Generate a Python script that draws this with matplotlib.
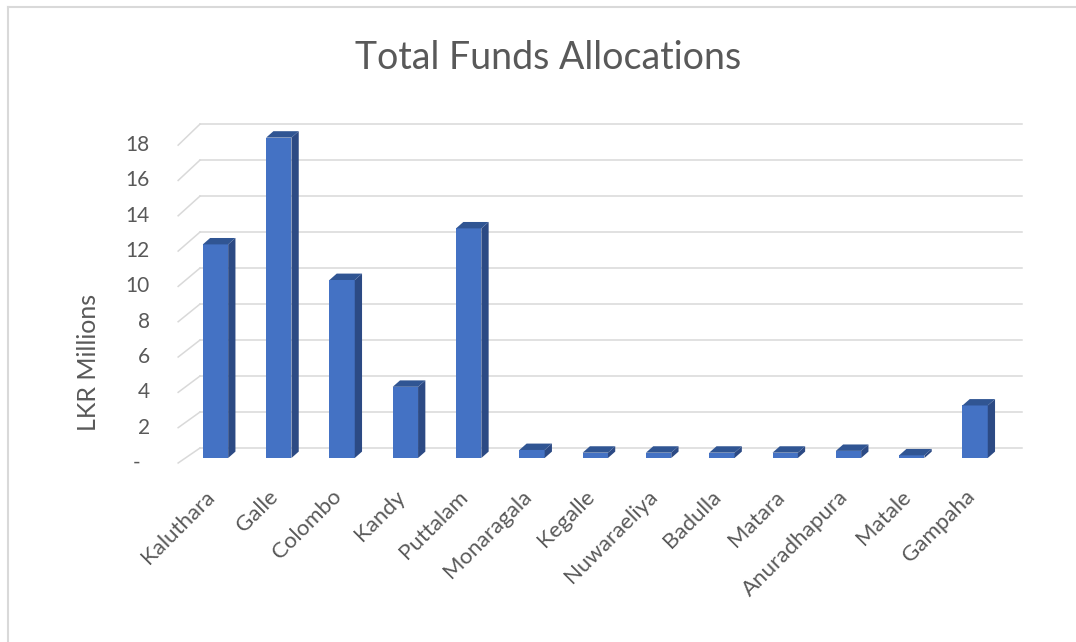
import matplotlib.pyplot as plt
from matplotlib.patches import Polygon
import numpy as np

plt.rcParams['font.family'] = ['Lato', 'DejaVu Sans']

districts = ['Kaluthara', 'Galle', 'Colombo', 'Kandy', 'Puttalam', 'Monaragala',
             'Kegalle', 'Nuwaraeliya', 'Badulla', 'Matara', 'Anuradhapura',
             'Matale', 'Gampaha']
funds = [12.0, 18.0, 10.0, 4.0, 12.9, 0.45, 0.3, 0.3, 0.3, 0.3, 0.4, 0.15, 2.95]
yticks = [0, 2, 4, 6, 8, 10, 12, 14, 16, 18]
ytick_labels = ['-', '2', '4', '6', '8', '10', '12', '14', '16', '18']

front_col = '#4472C4'
side_col = '#2C4A84'
top_col = '#305593'
grid_col = '#D9D9D9'
text_col = '#595959'

W, H = 1076, 642
fig = plt.figure(figsize=(W / 100, H / 100), dpi=100)

# pixel mapping of the data space (x = category index, y = value)
x0_px, dx_px = 215.5, 63.3
y0_px, dy_px = 458, 17.8
xlim = (-1.0, 13.0)
ylim = (-0.5, 19.5)
left = (x0_px + dx_px * xlim[0]) / W
right = (x0_px + dx_px * xlim[1]) / W
top = 1 - (y0_px - dy_px * ylim[1]) / H
bottom = 1 - (y0_px - dy_px * ylim[0]) / H
ax = fig.add_axes([left, bottom, right - left, top - bottom])
ax.set_xlim(*xlim)
ax.set_ylim(*ylim)
ax.axis('off')

# fake 3d walls: back gridlines + diagonal lines to the front edge
back_x0, back_x1 = -0.245, 12.74
front_x = -0.59
for v in yticks:
    yb = 0.56 + v * 1.011
    yf = -0.28 + v * 0.992
    ax.plot([back_x0, back_x1], [yb, yb], color=grid_col, lw=1.1, zorder=1)
    ax.plot([front_x, back_x0], [yf, yb], color=grid_col, lw=1.1, zorder=1)

for v, lab in zip(yticks, ytick_labels):
    yf = -0.28 + v * 0.992
    if lab == '-':
        ax.text(-1.25, yf, lab, ha='center', va='center', fontsize=15,
                color=text_col, clip_on=False)
    else:
        ax.text(-1.04, yf, lab, ha='right', va='center', fontsize=15,
                color=text_col, clip_on=False)

# bars with side and top faces
x = np.arange(len(districts))
bw = 0.40
ddx, ddy = 0.115, 0.36
ax.bar(x, funds, width=bw, color=front_col, zorder=3)
for xi, v in zip(x, funds):
    r = xi + bw / 2
    l = xi - bw / 2
    ax.add_patch(Polygon([(r, 0), (r + ddx, ddy), (r + ddx, v + ddy), (r, v)],
                         closed=True, color=side_col, lw=0, zorder=3))
    ax.add_patch(Polygon([(l, v), (r, v), (r + ddx, v + ddy), (l + ddx, v + ddy)],
                         closed=True, color=top_col, lw=0, zorder=3))

for xi, name in zip(x, districts):
    ax.text(xi - 0.06, -2.0, name, rotation=45, rotation_mode='anchor',
            ha='right', va='center', fontsize=16, color=text_col, clip_on=False)

fig.text(548 / W, 1 - 58 / H, 'Total Funds Allocations', ha='center', va='center',
         fontsize=27, color=text_col)
fig.text(88 / W, 1 - 362 / H, 'LKR Millions', rotation=90, ha='center', va='center',
         fontsize=18, color=text_col)

# chart border (top and left edges visible)
fig.add_artist(plt.Line2D([8 / W, 1], [1 - 7 / H, 1 - 7 / H], color='#D9D9D9', lw=1.5))
fig.add_artist(plt.Line2D([8 / W, 8 / W], [0, 1 - 7 / H], color='#D9D9D9', lw=1.5))

fig.savefig('out.png', dpi=100)
